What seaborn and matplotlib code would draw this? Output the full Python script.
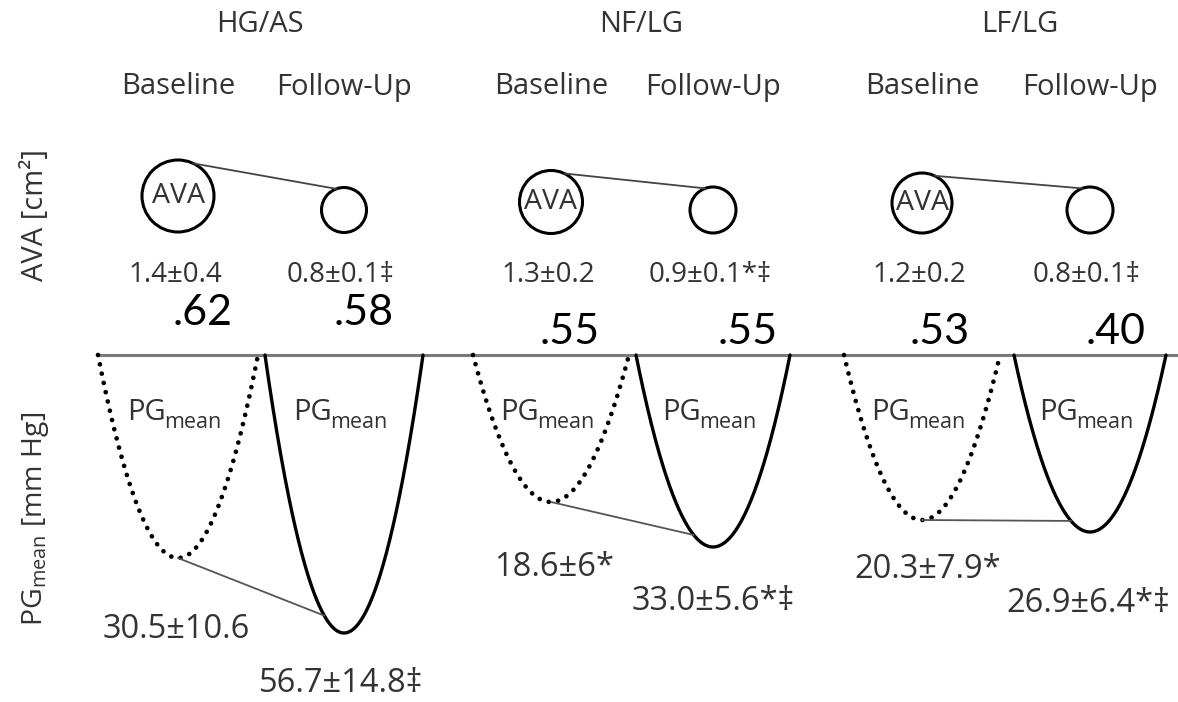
import numpy as np
import pandas as pd
import matplotlib
matplotlib.use("Agg")
import matplotlib.pyplot as plt
from matplotlib.patches import Circle
import seaborn as sns

# ---------------- data ----------------
groups = ["HG/AS", "NF/LG", "LF/LG"]
phases = ["Baseline", "Follow-Up"]
ava_labels = ["1.4±0.4", "0.8±0.1‡", "1.3±0.2", "0.9±0.1*‡", "1.2±0.2", "0.8±0.1‡"]
pg_labels = ["30.5±10.6", "56.7±14.8‡", "18.6±6*", "33.0±5.6*‡", "20.3±7.9*", "26.9±6.4*‡"]
corr_labels = [".62", ".58", ".55", ".55", ".53", ".40"]

# ---------------- layout (pixel coordinates of the schematic) ----------------
col_x = [178, 344, 551, 713, 922, 1090]          # column centres
circle_cy = [196, 210, 202, 210, 203, 210]
circle_r = [36, 22.5, 31.5, 23, 30, 23]
bowl_half = [80, 79, 78, 77, 78, 76]
bowl_depth = [203, 278, 147, 192, 165, 177]
baseline_y = 355
ava_label_y = 275
corr_xy = [(203, 313), (364, 313), (570, 332), (748, 332), (940, 332), (1116, 332)]
pg_label_xy = [(176, 630), (341, 683), (554, 567), (713, 601), (928, 569), (1088, 603)]
group_x = [260, 641, 1020]

TXT = "#333333"
SANS = ["Open Sans", "DejaVu Sans"]
NUM = ["Lato", "DejaVu Sans"]

sns.set_theme(style="white")
plt.rcParams["font.family"] = SANS
plt.rcParams["mathtext.default"] = "regular"

fig = plt.figure(figsize=(11.78, 7.02), dpi=100)
ax = fig.add_axes([0, 0, 1, 1])
ax.set_xlim(0, 1178)
ax.set_ylim(702, 0)
ax.set_aspect("equal")
ax.axis("off")

# titles
for gx, g in zip(group_x, groups):
    ax.text(gx, 25, g, ha="center", va="center", fontsize=21, color=TXT)
for i, x in enumerate(col_x):
    ax.text(x, 87, phases[i % 2], ha="center", va="center", fontsize=21, color=TXT)

# left labels
ax.text(36, 215, "AVA [cm²]", rotation=90, ha="center", va="center", fontsize=21, color=TXT)
ax.text(36, 519, "PG$_{mean}$ [mm Hg]", rotation=90, ha="center", va="center", fontsize=20.5, color=TXT)

# AVA circles
for i in range(6):
    ax.add_patch(Circle((col_x[i], circle_cy[i]), circle_r[i], fill=False,
                        lw=2.2, ec="black"))
    if i % 2 == 0:
        ax.text(col_x[i], circle_cy[i], "AVA", ha="center", va="center",
                fontsize=20.5, color=TXT)
    ax.text(col_x[i] - 3, ava_label_y, ava_labels[i], ha="center", va="center",
            fontsize=20, color=TXT)
    ax.text(corr_xy[i][0], corr_xy[i][1], corr_labels[i], ha="center", va="center",
            fontsize=31, color="black", family=NUM)

# connectors between circles
for g in range(3):
    b, f = 2 * g, 2 * g + 1
    a1, a2 = np.deg2rad(65), np.deg2rad(110)
    p1 = (col_x[b] + circle_r[b] * np.cos(a1), circle_cy[b] - circle_r[b] * np.sin(a1))
    p2 = (col_x[f] + circle_r[f] * np.cos(a2), circle_cy[f] - circle_r[f] * np.sin(a2))
    sns.lineplot(x=[p1[0], p2[0]], y=[p1[1], p2[1]], ax=ax, color="#444444",
                 lw=1.3, estimator=None, sort=False)

# horizontal baseline
sns.lineplot(x=[col_x[0] - bowl_half[0], 1178], y=[baseline_y, baseline_y], ax=ax,
             color="#7a7a7a", lw=2.2, estimator=None, sort=False)

# PG bowls
t = np.linspace(-1, 1, 200)
for i in range(6):
    xs = col_x[i] + bowl_half[i] * t
    ys = baseline_y + bowl_depth[i] * (1 - t ** 2)
    df = pd.DataFrame({"x": xs, "y": ys})
    if i % 2 == 0:
        sns.lineplot(data=df, x="x", y="y", ax=ax, color="black", lw=3.4,
                     estimator=None, sort=False, linestyle=(0, (0.01, 2.0)),
                     dash_capstyle="round")
    else:
        sns.lineplot(data=df, x="x", y="y", ax=ax, color="black", lw=2.4,
                     estimator=None, sort=False)
    # "PG" with a lowered "mean" subscript
    anchor = col_x[i] - 12
    ax.text(anchor, 420, "PG", ha="right", va="baseline", fontsize=21, color=TXT)
    ax.text(anchor - 1.5, 428, "mean", ha="left", va="baseline", fontsize=15.5, color=TXT)
    ax.text(pg_label_xy[i][0], pg_label_xy[i][1], pg_labels[i], ha="center",
            va="center", fontsize=23.5, color=TXT)

# connectors between bowls
for g in range(3):
    b, f = 2 * g, 2 * g + 1
    p1 = (col_x[b], baseline_y + bowl_depth[b])
    fr = 0.25
    p2 = (col_x[f] - fr * bowl_half[f], baseline_y + bowl_depth[f] * (1 - fr ** 2))
    sns.lineplot(x=[p1[0], p2[0]], y=[p1[1], p2[1]], ax=ax, color="#555555",
                 lw=1.3, estimator=None, sort=False)

ax.set_xlim(0, 1178)
ax.set_ylim(702, 0)
fig.savefig("out.png", dpi=100)
